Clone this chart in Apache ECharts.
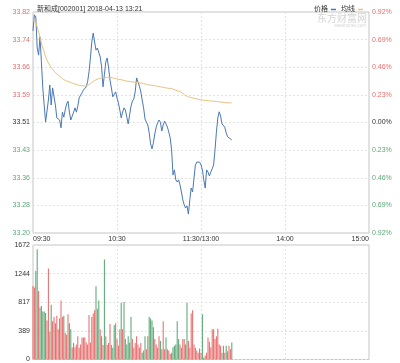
<!DOCTYPE html>
<html><head><meta charset="utf-8">
<script src="https://cdn.jsdelivr.net/npm/echarts@6/dist/echarts.min.js"></script>
<style>html,body{margin:0;padding:0;background:#fff}#c{width:400px;height:363px}</style>
</head><body><div id="c"></div>
<script>
const titleText = '新和成[002001] 2018-04-13 13:21';
const timeTicks = ['09:30', '10:30', '11:30/13:00', '14:00', '15:00'];
const priceLabels = ['33.82', '33.74', '33.66', '33.59', '33.51', '33.43', '33.36', '33.28', '33.20'];
const pctLabels = ['0.92%', '0.69%', '0.46%', '0.23%', '0.00%', '0.23%', '0.46%', '0.69%', '0.92%'];
const volLabels = ['0', '389', '817', '1244', '1672'];
const priceMin = 33.20, priceMax = 33.82, volMax = 1672;

const price = [
33.767,33.812,33.806,33.719,33.699,33.750,33.680,33.607,33.559,33.511,
33.506,33.573,33.615,33.559,33.607,33.610,33.559,33.523,33.525,33.517,
33.495,33.539,33.525,33.545,33.562,33.570,33.539,33.517,33.528,33.539,
33.551,33.539,33.556,33.579,33.587,33.593,33.601,33.596,33.610,33.624,
33.652,33.691,33.736,33.761,33.736,33.713,33.719,33.722,33.694,33.666,
33.610,33.644,33.680,33.691,33.663,33.629,33.607,33.582,33.579,33.596,
33.579,33.565,33.545,33.523,33.539,33.551,33.545,33.525,33.506,33.531,
33.556,33.570,33.576,33.596,33.635,33.624,33.612,33.596,33.573,33.551,
33.520,33.511,33.503,33.481,33.450,33.436,33.453,33.478,33.497,33.509,
33.517,33.511,33.486,33.503,33.514,33.506,33.497,33.483,33.467,33.433,
33.363,33.377,33.349,33.343,33.349,33.335,33.315,33.293,33.279,33.270,
33.276,33.253,33.293,33.326,33.315,33.354,33.391,33.399,33.399,33.399,
33.391,33.377,33.349,33.326,33.377,33.371,33.360,33.371,33.380,33.391,
33.433,33.483,33.523,33.540,33.528,33.506,33.511,33.497,33.481,33.470,
33.475,33.464,33.461
];
const avg = [
33.798,33.803,33.792,33.778,33.764,33.750,33.733,33.719,33.708,33.694,
33.685,33.677,33.670,33.664,33.659,33.654,33.650,33.646,33.643,33.640,
33.636,33.633,33.631,33.628,33.626,33.625,33.624,33.622,33.621,33.619,
33.618,33.617,33.615,33.614,33.614,33.613,33.612,33.612,33.612,33.614,
33.617,33.619,33.622,33.625,33.628,33.630,33.631,33.633,33.634,33.635,
33.636,33.636,33.637,33.637,33.637,33.637,33.636,33.635,33.635,33.633,
33.633,33.631,33.631,33.630,33.629,33.628,33.627,33.626,33.626,33.625,
33.624,33.624,33.623,33.623,33.622,33.622,33.622,33.621,33.620,33.619,
33.618,33.617,33.616,33.615,33.615,33.614,33.614,33.613,33.612,33.612,
33.611,33.610,33.610,33.609,33.608,33.607,33.607,33.606,33.605,33.605,
33.603,33.602,33.601,33.599,33.598,33.597,33.594,33.591,33.589,33.586,
33.584,33.582,33.581,33.580,33.579,33.578,33.577,33.576,33.575,33.574,
33.573,33.573,33.572,33.572,33.571,33.571,33.571,33.570,33.570,33.570,
33.569,33.569,33.569,33.568,33.568,33.567,33.567,33.566,33.566,33.565,
33.565,33.565,33.565
];
const volume = [
1072,1050,1292,1610,1000,760,780,700,700,680,
570,1330,400,800,560,620,530,640,440,600,
860,620,640,390,360,660,530,440,175,240,
180,220,340,170,220,320,320,320,250,220,
650,250,620,670,720,1070,740,860,440,340,
210,1460,340,210,240,520,210,170,500,530,
300,200,440,830,440,840,300,220,340,250,
620,300,170,240,340,220,170,240,100,130,
340,150,340,620,600,570,470,300,220,170,
340,270,150,560,150,320,150,130,80,100,
180,200,220,560,300,220,170,300,300,220,
830,270,170,670,720,220,170,130,100,160,
100,660,30,60,100,320,260,180,440,440,
300,340,450,220,200,100,200,100,200,120,
200,150,250
];
// u = up (red), d = down (green)
const volDir = (
'uudduddddd' + 'uuuduuduud' + 'uuduuuddud' +
'uuuuuuuuuu' + 'uuuuududud' + 'uduuuuuddu' +
'uuudududdu' + 'duuuuuuudu' + 'duudddduuu' +
'uduuuduuud' + 'ddddduuuud' + 'duuuuuuuud' +
'udduuuuuuu' + 'uuuuudduduu'.slice(0,10) + 'uud'
).split('');

const N = 241;
const cats = Array.from({length: N}, (_, i) => i);
const red = '#e86e6e', green = '#5aa874', dark = '#333';
const FF = 'Liberation Sans, Arial, Noto Sans CJK SC, sans-serif';
const dashed = {show: true, interval: 59, lineStyle: {color: '#e2e2e2', type: [2, 2], width: 1}};

const chart = echarts.init(document.getElementById('c'), null, {renderer: 'canvas'});
chart.setOption({
  animation: false,
  backgroundColor: '#fff',
  textStyle: {fontFamily: FF},
  title: {text: titleText, left: 32, top: 1, textStyle: {fontSize: 7, fontWeight: 'normal', color: '#333', fontFamily: FF}},
  legend: {
    data: ['价格', '均线'], right: 32, top: 1, icon: 'rect', itemWidth: 5, itemHeight: 1.5, itemGap: 5, align: 'right',
    textStyle: {fontSize: 7, color: '#333', padding: [0, -2, 0, 0]}
  },
  graphic: [
    {type: 'text', right: 33, top: 13, style: {text: '东方财富网', fontSize: 10, fill: '#d4d4d4', fontFamily: 'Noto Sans CJK SC'}},
    {type: 'text', right: 34, top: 24, style: {text: 'eastmoney.com', fontSize: 4.5, fill: '#d4d4d4', fontFamily: FF}}
  ],
  grid: [
    {left: 33, right: 31, top: 12, height: 221, show: true, borderColor: '#c4c4c4', borderWidth: 1},
    {left: 33, right: 31, top: 245, height: 115, show: true, borderColor: '#c4c4c4', borderWidth: 1}
  ],
  xAxis: [
    {type: 'category', gridIndex: 0, data: cats, boundaryGap: false,
     axisLine: {show: false}, axisTick: {show: false},
     axisLabel: {interval: 59, fontSize: 7, color: dark, margin: 3, alignMinLabel: 'left', alignMaxLabel: 'right',
       formatter: (v, i) => timeTicks[Math.round(i / 60)] || ''},
     splitLine: dashed},
    {type: 'category', gridIndex: 1, data: cats, boundaryGap: false,
     axisLine: {show: false}, axisTick: {show: false}, axisLabel: {show: false},
     splitLine: dashed}
  ],
  yAxis: [
    {type: 'value', gridIndex: 0, min: priceMin, max: priceMax, show: false, splitLine: {show: false}},
    {type: 'value', gridIndex: 0, position: 'left', min: 0, max: 8, interval: 1,
     axisLine: {show: false}, axisTick: {show: false},
     axisLabel: {fontSize: 7, margin: 3, formatter: v => priceLabels[8 - v],
       color: v => v > 4 ? red : (v < 4 ? green : dark)},
     splitLine: {show: true, lineStyle: {color: '#e2e2e2', type: [2, 2], width: 1}}},
    {type: 'value', gridIndex: 0, position: 'right', min: 0, max: 8, interval: 1,
     axisLine: {show: false}, axisTick: {show: false},
     axisLabel: {fontSize: 7, margin: 3, formatter: v => pctLabels[8 - v],
       color: v => v > 4 ? red : (v < 4 ? green : dark)},
     splitLine: {show: false}},
    {type: 'value', gridIndex: 1, min: 0, max: volMax, interval: volMax / 4,
     axisLine: {show: false}, axisTick: {show: false},
     axisLabel: {fontSize: 7, margin: 3, color: dark, formatter: v => volLabels[Math.round(v / (volMax / 4))]},
     splitLine: {show: true, lineStyle: {color: '#e2e2e2', type: [2, 2], width: 1}}}
  ],
  series: [
    {name: '价格', type: 'line', xAxisIndex: 0, yAxisIndex: 0, data: price, symbol: 'none',
     itemStyle: {color: '#4a78b4'}, lineStyle: {color: '#4a78b4', width: 1}},
    {name: '均线', type: 'line', xAxisIndex: 0, yAxisIndex: 0, data: avg, symbol: 'none',
     itemStyle: {color: '#eac27e'}, lineStyle: {color: '#eac27e', width: 1}},
    {name: '成交量', type: 'bar', xAxisIndex: 1, yAxisIndex: 3, barCategoryGap: '25%',
     data: volume.map((v, i) => ({value: v, itemStyle: {color: volDir[i] === 'd' ? green : red}}))}
  ]
});
</script></body></html>
